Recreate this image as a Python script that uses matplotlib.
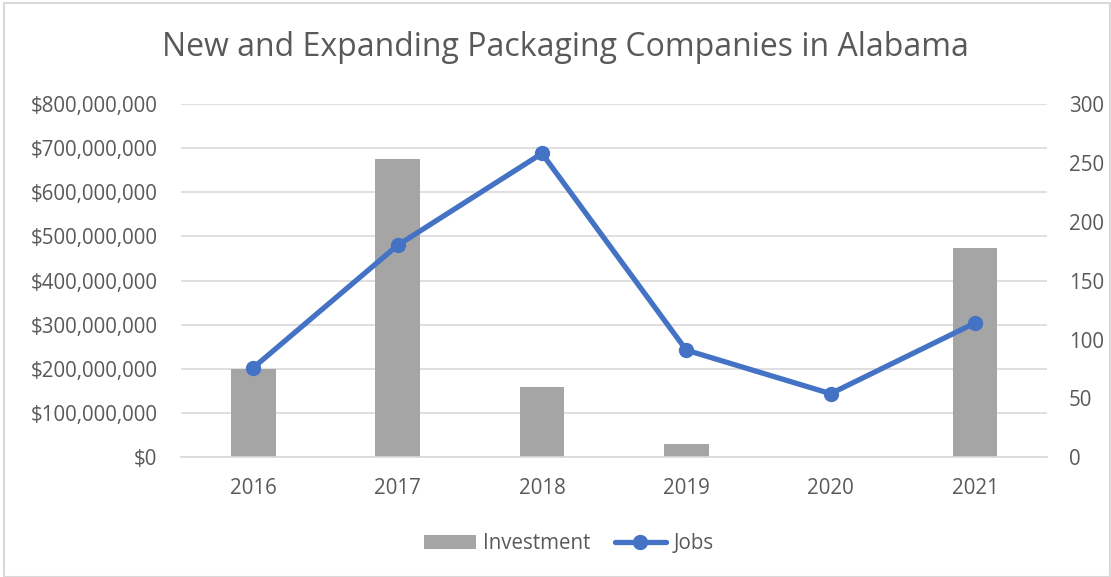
import numpy as np
import matplotlib.pyplot as plt
from matplotlib.patches import Rectangle
from matplotlib.ticker import FuncFormatter

# data
years = ['2016', '2017', '2018', '2019', '2020', '2021']
investment = [200e6, 675e6, 160e6, 30e6, 0, 475e6]
jobs = [76, 180, 258, 91, 54, 114]

grey_text = '#595959'
plt.rcParams['font.family'] = ['Open Sans', 'DejaVu Sans']

fig = plt.figure(figsize=(11.11, 5.77), dpi=100)
ax = fig.add_axes([0.163, 0.2075, 0.7795, 0.6123])
ax2 = ax.twinx()

x = np.arange(len(years))
bars = ax.bar(x, investment, width=0.31, color='#A5A5A5', label='Investment', zorder=2)
line, = ax2.plot(x, jobs, color='#4472C4', lw=3.8, marker='o', markersize=10,
                 label='Jobs', zorder=3, solid_capstyle='round')

ax.set_xlim(-0.5, len(years) - 0.5)
ax.set_ylim(0, 800e6)
ax.set_yticks(np.arange(0, 800e6 + 1, 100e6))
ax.yaxis.set_major_formatter(FuncFormatter(lambda v, p: '${:,.0f}'.format(v)))
ax2.set_ylim(0, 300)
ax2.set_yticks(np.arange(0, 301, 50))

ax.set_xticks(x)
ax.set_xticklabels(years)
ax.grid(axis='y', color='#D9D9D9', lw=1.2, zorder=0)
ax.set_axisbelow(True)

for a in (ax, ax2):
    for s in a.spines.values():
        s.set_visible(False)
    a.tick_params(length=0, labelsize=14.8, colors=grey_text)
ax.tick_params(axis='y', pad=17)
ax.tick_params(axis='x', pad=15)
ax2.tick_params(axis='y', pad=15.5)
ax.spines['bottom'].set_visible(True)
ax.spines['bottom'].set_color('#D9D9D9')
ax.spines['bottom'].set_linewidth(1.2)

# put line axes above bars
ax2.set_zorder(ax.get_zorder() + 1)
ax2.patch.set_visible(False)

fig.text(0.509, 0.917, 'New and Expanding Packaging Companies in Alabama',
         ha='center', va='center', fontsize=23, color=grey_text)

leg = fig.legend([bars, line], ['Investment', 'Jobs'], loc='center',
                 bbox_to_anchor=(0.512, 0.058), ncol=2, frameon=False,
                 fontsize=14.8, handlelength=2.5, columnspacing=1.2,
                 handletextpad=0.35)
for t in leg.get_texts():
    t.set_color(grey_text)

# outer chart border
fig.patches.append(Rectangle((0.004, 0.0), 0.995, 0.994, transform=fig.transFigure,
                             fill=False, edgecolor='#D9D9D9', lw=1.5))

fig.savefig('out.png', dpi=100)
